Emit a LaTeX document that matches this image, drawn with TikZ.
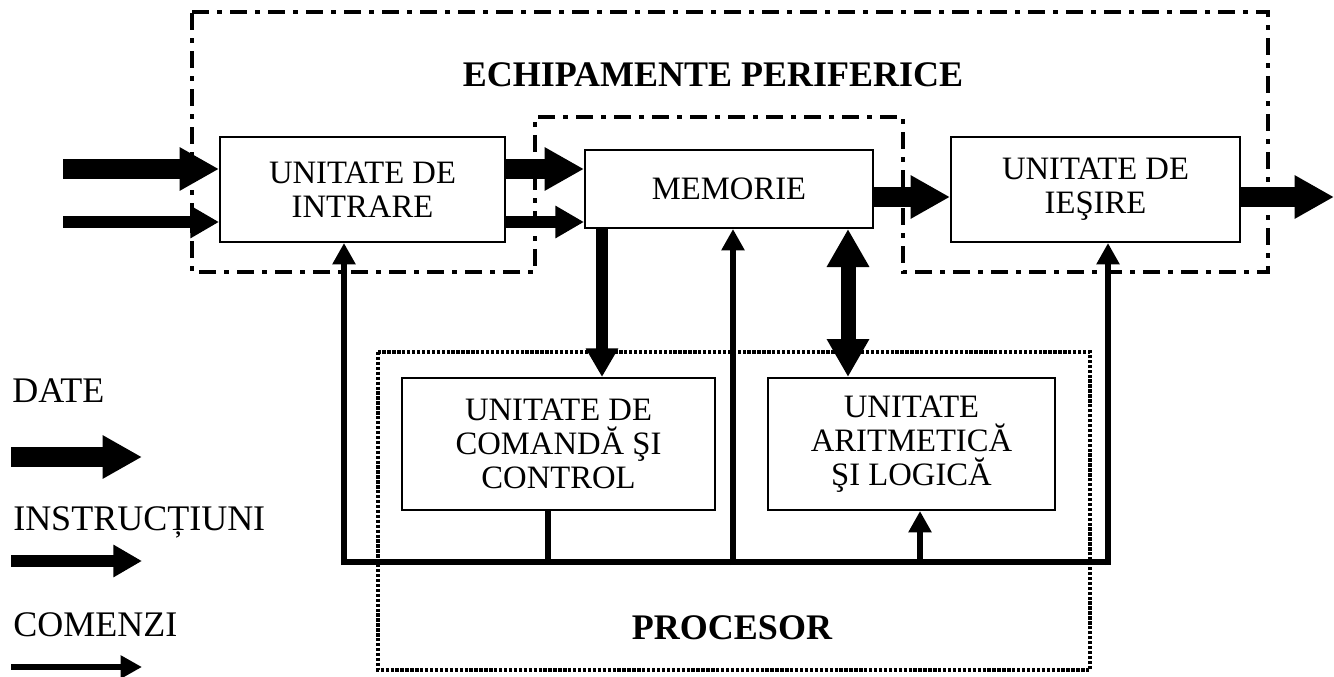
\documentclass[tikz,border=0pt]{standalone}
\usepackage{fontspec}
\setmainfont{Liberation Serif}
\usetikzlibrary{arrows.meta,positioning}

\begin{document}
\begin{tikzpicture}[x=0.75pt,y=0.75pt,yscale=-1,xscale=1,
  unit/.style={draw,line width=1.5pt,inner sep=0pt,align=center,font=\fontsize{24.5}{25.5}\selectfont},
  data/.style={line width=14.5pt,-{Triangle[width=30.5pt,length=29.5pt]}},
  databoth/.style={line width=11.25pt,{Triangle[width=30pt,length=28.5pt]}-{Triangle[width=30pt,length=28.5pt]}},
  instr/.style={line width=9pt,-{Triangle[width=23pt,length=21.5pt]}},
  cmd/.style={line width=4.5pt,-{Triangle[width=16.5pt,length=16pt]}},
  bus/.style={line width=4.5pt},
  periph/.style={line width=3pt,dash pattern=on 13pt off 6pt on 3.5pt off 6pt},
  proc/.style={line width=3pt,dash pattern=on 2.5pt off 1.2pt},
  legend/.style={anchor=base west,inner sep=0pt,font=\fontsize{27}{32}\selectfont},
  title/.style={inner sep=0pt,font=\fontsize{27}{32}\selectfont\bfseries}
]
\useasboundingbox (0,0) rectangle (1334,677);

%Frames
\draw[periph] (192,12) -- (1268,12) -- (1268,272) -- (903,272) -- (903,117) -- (535,117) -- (535,272) -- (192,272) -- cycle;
\draw[proc] (378,352) rectangle (1090,670);

%Titles
\node[title] (periferice) at (713,75) {ECHIPAMENTE PERIFERICE};
\node[title] (procesor) at (732,628) {PROCESOR};

%Units
\node[unit,minimum width=213.75pt,minimum height=78.75pt] (intrare) at (362.5,189.5) {UNITATE DE\\INTRARE};
\node[unit,minimum width=216pt,minimum height=58.5pt] (memorie) at (729,189) {MEMORIE};
\node[unit,minimum width=216.75pt,minimum height=78.75pt] (iesire) at (1095.5,189.5) {UNITATE DE\\IEŞIRE};
\node[unit,minimum width=234.75pt,minimum height=99pt] (cu) at (558.5,444) {UNITATE DE\\COMANDĂ ŞI\\CONTROL};
\node[unit,minimum width=215.25pt,minimum height=99pt] (alu) at (911.5,444) {UNITATE\\ARITMETICĂ\\ŞI LOGICĂ};

%Data and instructions
\coordinate (din) at (63,169);
\coordinate (iin) at (63,222);
\coordinate (dout) at (1334,197);
\draw[data] (din) -- (din -| intrare.west);
\draw[instr] (iin) -- (iin -| intrare.west);
\draw[data] (din -| intrare.east) -- (din -| memorie.west);
\draw[instr] (iin -| intrare.east) -- (iin -| memorie.west);
\draw[data] (dout -| memorie.east) -- (dout -| iesire.west);
\draw[data] (dout -| iesire.east) -- (dout);
\coordinate (mcu) at (602,0);
\coordinate (malu) at (848,0);
\draw[instr] (mcu |- memorie.south) -- (mcu |- cu.north);
\draw[databoth] (malu |- memorie.south) -- (malu |- alu.north);

%Commands
\coordinate (busL) at (344,562);
\coordinate (busR) at (1110,562);
\coordinate (b1) at (344,565);
\coordinate (b2) at (548,562);
\coordinate (b3) at (733,565);
\coordinate (b4) at (920,562);
\coordinate (b5) at (1108,565);
\draw[bus] (busL) -- (busR);
\draw[cmd] (b1) -- (b1 |- intrare.south);
\draw[bus] (b2 |- cu.south) -- (b2);
\draw[cmd] (b3) -- (b3 |- memorie.south);
\draw[cmd] (b4) -- (b4 |- alu.south);
\draw[cmd] (b5) -- (b5 |- iesire.south);

%Legend
\node[legend] (ldate) at (12,402) {DATE};
\node[legend] (linstr) at (13,530) {INSTRUCȚIUNI};
\node[legend] (lcmd) at (13,636) {COMENZI};
\coordinate (ld1) at (11,457);
\coordinate (ld2) at (142,457);
\coordinate (li1) at (11,561);
\coordinate (li2) at (142,561);
\coordinate (lc1) at (11,667);
\coordinate (lc2) at (142,667);
\draw[data] (ld1) -- (ld2);
\draw[instr] (li1) -- (li2);
\draw[cmd] (lc1) -- (lc2);

\end{tikzpicture}
\end{document}
